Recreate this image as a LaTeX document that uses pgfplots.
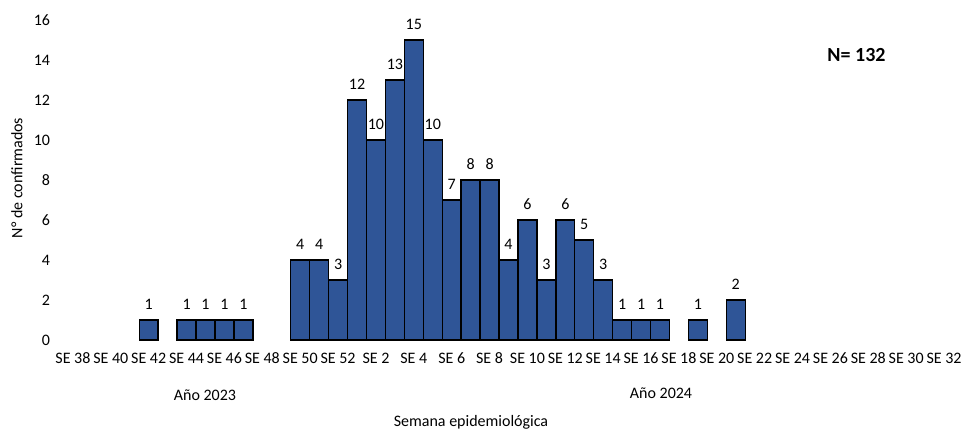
\documentclass[border=0pt]{standalone}
\usepackage{fontspec}
\setmainfont{Carlito}
\usepackage{pgfplots}
\pgfplotsset{compat=1.18}
\definecolor{barblue}{RGB}{47,85,151}

% Confirmed cases per epidemiological week; x index 0 = SE 38 (2023), 14 = SE 52, 15 = SE 1 (2024)
\begin{document}
\begin{tikzpicture}[x=1bp,y=1bp]
\useasboundingbox (-63.5,-89) rectangle (899.5,340);
\begin{axis}[
  at={(0,0)}, anchor=south west,
  scale only axis,
  width=890bp, height=320bp,
  xmin=-0.5, xmax=46.5,
  ymin=0, ymax=16,
  axis lines*=left,
  axis line style={draw=none},
  major tick length=0pt,
  ytick={0,2,...,16},
  xtick={0,2,...,46},
  xticklabels={SE 38,SE 40,SE 42,SE 44,SE 46,SE 48,SE 50,SE 52,SE 2,SE 4,SE 6,SE 8,SE 10,SE 12,SE 14,SE 16,SE 18,SE 20,SE 22,SE 24,SE 26,SE 28,SE 30,SE 32},
  /pgf/number format/assume math mode=true,
  tick label style={font=\fontsize{16bp}{19bp}\selectfont},
  xticklabel style={yshift=-9.5bp},
  yticklabel style={xshift=-10bp},
  ybar, bar width=1,
  clip=false,
  nodes near coords,
  every node near coord/.append style={font=\fontsize{16bp}{19bp}\selectfont, yshift=6bp},
]
\addplot[fill=barblue, draw=black, line width=1.4bp] coordinates {
  (4,1) (6,1) (7,1) (8,1) (9,1)
  (12,4) (13,4) (14,3)
  (15,12) (16,10) (17,13) (18,15) (19,10) (20,7) (21,8) (22,8)
  (23,4) (24,6) (25,3) (26,6) (27,5) (28,3)
  (29,1) (30,1) (31,1) (33,1) (35,2)
};
\end{axis}
\node[rotate=90, font=\fontsize{16bp}{19bp}\selectfont] at (-46.5,162) {N° de confirmados};
\node[font=\fontsize{16bp}{19bp}\selectfont] at (141.5,-55) {Año 2023};
\node[font=\fontsize{16bp}{19bp}\selectfont] at (597.5,-53) {Año 2024};
\node[font=\fontsize{16bp}{19bp}\selectfont] at (407.5,-82) {Semana epidemiológica};
\node[font=\fontsize{20bp}{24bp}\selectfont\bfseries] at (793,285) {N= 132};
\end{tikzpicture}
\end{document}
